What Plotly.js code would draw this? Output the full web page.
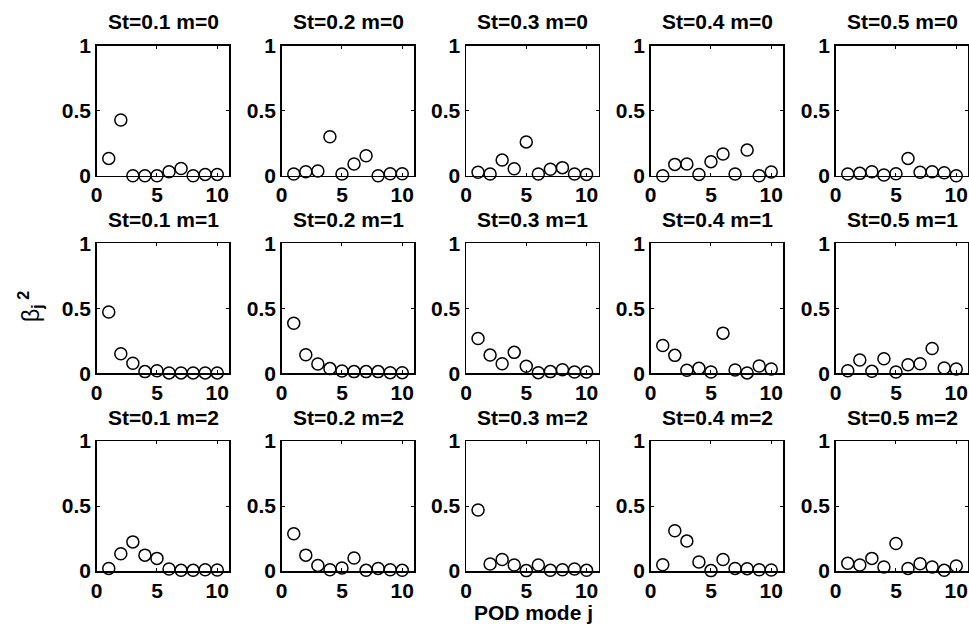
<!DOCTYPE html>
<html>
<head>
<meta charset="utf-8">
<script src="https://cdn.plot.ly/plotly-3.0.1.min.js"></script>
<style>html,body{margin:0;padding:0;background:#fff;}#chart{width:969px;height:625px;}</style>
</head>
<body>
<div id="chart"></div>
<script>
// POD mode index
const modes = [1, 2, 3, 4, 5, 6, 7, 8, 9, 10];
const stLabels = ["0.1", "0.2", "0.3", "0.4", "0.5"];
const mLabels = ["0", "1", "2"];
const xTicks = [0, 5, 10];
const yTicks = [0, 0.5, 1];

// m = 0
const m0_St01 = [0.133, 0.428, 0.0, 0.0, 0.0, 0.031, 0.056, 0.0, 0.01, 0.01];
const m0_St02 = [0.013, 0.031, 0.036, 0.30, 0.013, 0.09, 0.154, 0.0, 0.015, 0.015];
const m0_St03 = [0.026, 0.013, 0.12, 0.054, 0.26, 0.013, 0.049, 0.062, 0.013, 0.01];
const m0_St04 = [0.0, 0.087, 0.09, 0.01, 0.108, 0.167, 0.013, 0.197, 0.0, 0.028];
const m0_St05 = [0.013, 0.018, 0.031, 0.005, 0.015, 0.133, 0.026, 0.031, 0.023, 0.0];
// m = 1
const m1_St01 = [0.472, 0.15, 0.077, 0.013, 0.02, 0.003, 0.003, 0.003, 0.003, 0.003];
const m1_St02 = [0.385, 0.143, 0.071, 0.036, 0.018, 0.013, 0.013, 0.013, 0.005, 0.005];
const m1_St03 = [0.268, 0.14, 0.074, 0.161, 0.054, 0.005, 0.013, 0.028, 0.01, 0.01];
const m1_St04 = [0.214, 0.138, 0.023, 0.038, 0.01, 0.309, 0.026, 0.003, 0.056, 0.033];
const m1_St05 = [0.02, 0.102, 0.015, 0.112, 0.01, 0.066, 0.074, 0.191, 0.041, 0.033];
// m = 2
const m2_St01 = [0.02, 0.133, 0.224, 0.122, 0.097, 0.015, 0.005, 0.005, 0.01, 0.008];
const m2_St02 = [0.286, 0.122, 0.043, 0.01, 0.023, 0.10, 0.005, 0.02, 0.01, 0.005];
const m2_St03 = [0.469, 0.054, 0.089, 0.046, 0.003, 0.046, 0.005, 0.01, 0.015, 0.005];
const m2_St04 = [0.048, 0.309, 0.23, 0.069, 0.003, 0.089, 0.02, 0.018, 0.01, 0.008];
const m2_St05 = [0.059, 0.046, 0.097, 0.031, 0.212, 0.02, 0.056, 0.031, 0.005, 0.038];

const panels = [
  [m0_St01, m0_St02, m0_St03, m0_St04, m0_St05],
  [m1_St01, m1_St02, m1_St03, m1_St04, m1_St05],
  [m2_St01, m2_St02, m2_St03, m2_St04, m2_St05]
];

const W = 969, H = 625;
const colLeft = [96.7, 281.7, 466, 650.7, 835.7];
const panelW = 132.6;
const rowTop = [45.7, 243.3, 441];
const panelH = 130;
const FONT = "Liberation Sans, Arial, sans-serif";
const FS = 21;

const data = [];
const layout = {
  width: W, height: H,
  margin: {l: 0, r: 0, t: 0, b: 0},
  paper_bgcolor: "#fff", plot_bgcolor: "#fff",
  showlegend: false,
  font: {family: FONT, size: FS, color: "#000"},
  annotations: []
};

let k = 0;
for (let r = 0; r < 3; r++) {
  for (let c = 0; c < 5; c++) {
    k++;
    const sfx = k === 1 ? "" : String(k);
    data.push({
      type: "scatter", mode: "markers",
      x: modes, y: panels[r][c],
      xaxis: "x" + sfx, yaxis: "y" + sfx,
      cliponaxis: false,
      marker: {symbol: "circle-open", size: 12, color: "#000", line: {width: 1.5, color: "#000"}},
      hoverinfo: "x+y"
    });
    const x0 = colLeft[c] / W, x1 = (colLeft[c] + panelW) / W;
    const y1 = 1 - rowTop[r] / H, y0 = 1 - (rowTop[r] + panelH) / H;
    const common = {
      showgrid: false, zeroline: false,
      showline: true, linecolor: "#000", linewidth: 1.5, mirror: "ticks",
      ticks: "inside", ticklen: 3, tickwidth: 1, tickcolor: "#000",
      tickfont: {family: FONT, size: FS, color: "#000", weight: "bold"},
      fixedrange: true
    };
    layout["xaxis" + sfx] = Object.assign({}, common, {
      domain: [x0, x1], range: [0, 11], tickvals: xTicks, ticktext: xTicks.map(String),
      anchor: "y" + sfx
    });
    layout["yaxis" + sfx] = Object.assign({}, common, {
      domain: [y0, y1], range: [0, 1], tickvals: yTicks, ticktext: yTicks.map(String),
      anchor: "x" + sfx
    });
    layout.annotations.push({
      xref: "paper", yref: "paper",
      x: (colLeft[c] + panelW / 2) / W, y: 1 - (rowTop[r] - 24) / H,
      xanchor: "center", yanchor: "middle", showarrow: false,
      text: "<b>St=" + stLabels[c] + " m=" + mLabels[r] + "</b>",
      font: {family: FONT, size: FS, color: "#000"}
    });
  }
}

layout.annotations.push({
  xref: "paper", yref: "paper", x: 533 / W, y: 1 - 612 / H,
  xanchor: "center", yanchor: "middle", showarrow: false,
  text: "<b>POD mode j</b>", font: {family: FONT, size: FS, color: "#000"}
});
layout.annotations.push({
  xref: "paper", yref: "paper", x: 30 / W, y: 1 - 307 / H,
  xanchor: "center", yanchor: "middle", showarrow: false, textangle: -90,
  text: "β<sub><b>j</b></sub><sup><b> 2</b></sup>", font: {family: FONT, size: 23, color: "#000"}
});

Plotly.newPlot("chart", data, layout, {staticPlot: true});
</script>
</body>
</html>
